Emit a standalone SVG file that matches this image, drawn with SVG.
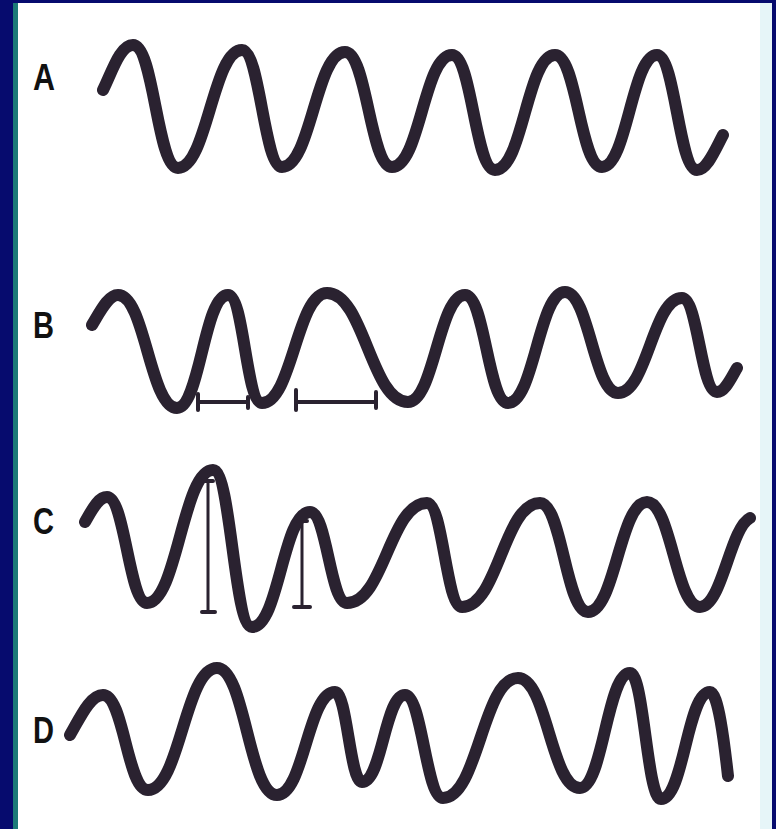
<svg xmlns="http://www.w3.org/2000/svg" width="776" height="829" viewBox="0 0 776 829">
<style>
.wave{fill:none;stroke:#2a2230;stroke-width:12;stroke-linecap:round;stroke-linejoin:round}
.mark{fill:none;stroke:#2a2230;stroke-width:4;stroke-linecap:round}
.thin{fill:none;stroke:#2a2230;stroke-width:3}
.lbl{font-family:"Liberation Sans",Arial,sans-serif;font-weight:bold;font-size:36px;fill:#111}
</style>
<rect x="0" y="0" width="776" height="829" fill="#060b6e"/>
<rect x="13" y="3" width="5" height="826" fill="#1c7a78"/>
<rect x="18" y="3" width="754" height="826" fill="#ffffff"/>
<rect x="760" y="3" width="12" height="826" fill="#e6f5f8"/>
<g id="row-A">
<text class="lbl" x="33" y="90" textLength="22" lengthAdjust="spacingAndGlyphs">A</text>
<path class="wave" d="M103,90 C112,72 120,45 133,45 C154,45 157,168 178,168 C207,168 213,50 242,50 C260,50 264,167 282,167 C311,167 316,52 345,52 C367,52 370,167 392,167 C420,167 424,55 452,55 C472,55 475,170 495,170 C523,170 527,55 555,55 C577,55 580,167 602,167 C627,167 632,55 657,55 C675,55 679,170 697,170 C707,170 715,150 723,135"/>
</g>
<g id="row-B">
<text class="lbl" x="33" y="338" textLength="21" lengthAdjust="spacingAndGlyphs">B</text>
<path class="wave" d="M92,325 C100,312 108,295 118,295 C145,295 150,408 177,408 C200,408 204,295 228,295 C244,295 246,403 262,403 C292,403 297,293 327,293 C364,293 371,402 408,402 C434,402 439,295 465,295 C485,295 488,403 508,403 C534,403 539,292 565,292 C589,292 594,393 618,393 C647,393 653,298 682,298 C698,298 701,392 717,392 C725,392 731,378 737,368"/>
<path class="mark" d="M198,402 H248 M198,394 V410 M248,397 V408 M296,402 H376 M296,390 V410 M376,392 V408"/>
</g>
<g id="row-C">
<text class="lbl" x="33" y="534" textLength="21" lengthAdjust="spacingAndGlyphs">C</text>
<path class="wave" d="M85,522 C92,510 98,497 107,497 C125,497 129,603 147,603 C177,603 183,470 213,470 C231,470 234,627 252,627 C279,627 283,512 310,512 C327,512 330,603 347,603 C384,603 390,503 427,503 C443,503 446,607 462,607 C498,607 504,503 540,503 C562,503 566,612 588,612 C615,612 620,502 647,502 C671,502 676,607 700,607 C722,607 730,528 750,518"/>
<path class="thin" d="M208,482 V612 M302,522 V607"/>
<path class="mark" d="M202,612 H215 M203,481 H213 M294,607 H310 M298,521 H307"/>
</g>
<g id="row-D">
<text class="lbl" x="33" y="743" textLength="21" lengthAdjust="spacingAndGlyphs">D</text>
<path class="wave" d="M70,735 C80,718 90,695 103,695 C124,695 127,790 148,790 C180,790 185,668 217,668 C245,668 249,795 277,795 C304,795 308,692 335,692 C347,692 350,782 362,782 C382,782 385,695 405,695 C422,695 426,798 443,798 C478,798 483,678 518,678 C547,678 551,788 580,788 C603,788 607,673 630,673 C644,673 647,799 661,799 C684,799 687,692 710,692 C718,692 724,740 728,776"/>
</g>
<g id="connectors"/>
</svg>
